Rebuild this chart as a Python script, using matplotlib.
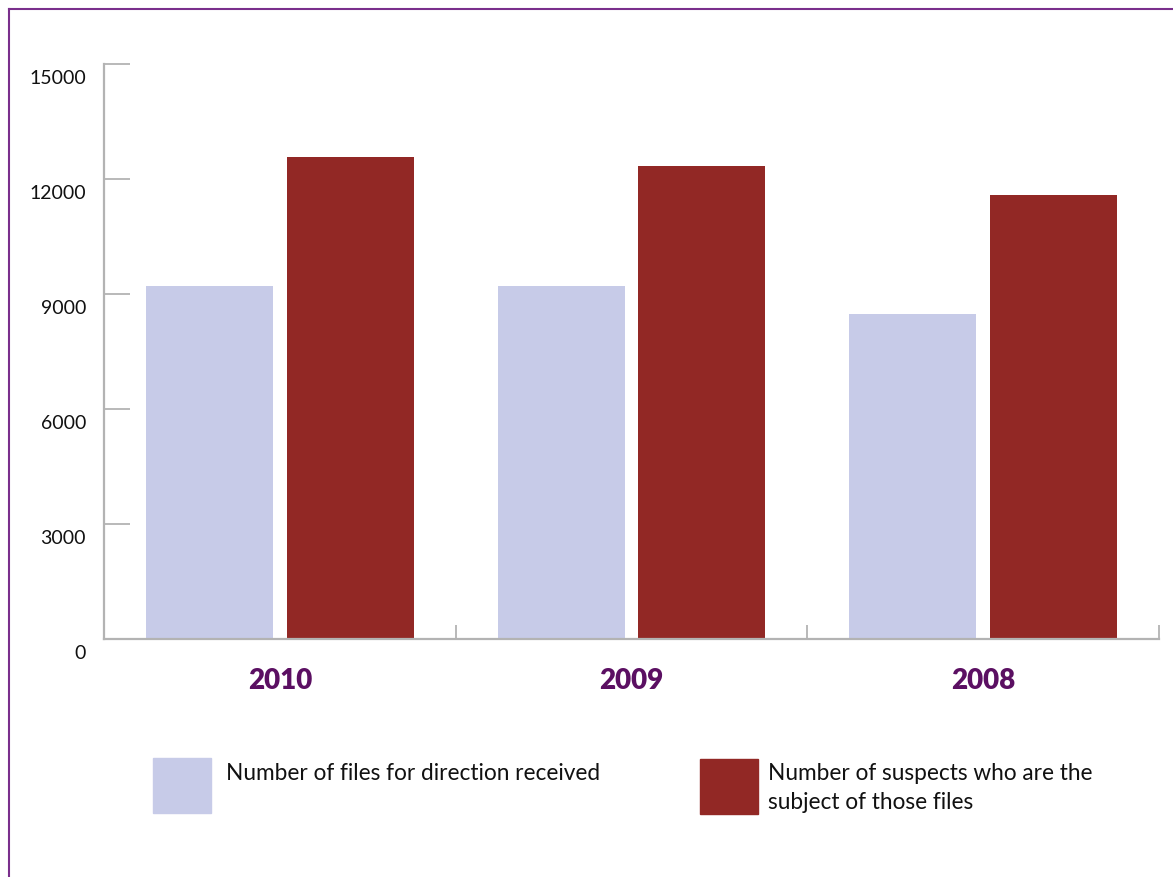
import matplotlib
matplotlib.use("Agg")
import matplotlib.pyplot as plt
import matplotlib.transforms as mtransforms
from matplotlib.patches import Rectangle
from matplotlib.lines import Line2D
import numpy as np

# data
years = ["2010", "2009", "2008"]
files_received = [9210, 9210, 8480]
suspects = [12570, 12340, 11580]
series_labels = ["Number of files for direction received",
                 "Number of suspects who are the\nsubject of those files"]
yticks = [0, 3000, 6000, 9000, 12000, 15000]

light = "#C7CBE8"
red = "#922825"
purple = "#5B0F62"
grey = "#B3B3B3"

plt.rcParams["font.family"] = ["Lato", "DejaVu Sans"]

W, H = 1173, 878
fig = plt.figure(figsize=(W / 100, H / 100), dpi=100)
ax = fig.add_axes([104 / W, 1 - 640 / H, 1055 / W, 575 / H])

x = np.arange(len(years))
ax.bar(x - 0.2, files_received, width=0.361, color=light, zorder=1)
ax.bar(x + 0.2, suspects, width=0.361, color=red, zorder=1)

ax.set_xlim(-0.5, 2.5)
ax.set_ylim(0, 15000)

for s in ["top", "right"]:
    ax.spines[s].set_visible(False)
for s in ["left", "bottom"]:
    ax.spines[s].set_color(grey)
    ax.spines[s].set_linewidth(1.6)
    ax.spines[s].set_zorder(3)

# y ticks point inward, labels sit a little below each tick
ax.set_yticks(yticks)
ax.set_yticklabels([str(v) for v in yticks])
ax.tick_params(axis="y", direction="in", length=19, width=1.3, color=grey,
               labelsize=14, pad=13, labelcolor="#111111")
shift = mtransforms.ScaledTranslation(0, -12 / 100, fig.dpi_scale_trans)
for lab in ax.get_yticklabels():
    lab.set_transform(lab.get_transform() + shift)

# group separators as major ticks, year names as minor tick labels
ax.set_xticks([0.5, 1.5, 2.5])
ax.set_xticklabels([])
ax.tick_params(axis="x", which="major", direction="in", length=10, width=1.3,
               color=grey)
ax.set_xticks(x, minor=True)
ax.set_xticklabels(years, minor=True)
ax.tick_params(axis="x", which="minor", length=0, pad=20, labelsize=20,
               labelcolor=purple)
for lab in ax.get_xticklabels(minor=True):
    lab.set_fontweight("heavy")

# legend drawn by hand to match the layout
fig.patches.append(Rectangle((153 / W, 1 - 814 / H), 58 / W, 55 / H,
                             transform=fig.transFigure, color=light))
fig.patches.append(Rectangle((700 / W, 1 - 815 / H), 58 / W, 55 / H,
                             transform=fig.transFigure, color=red))
fig.text(226 / W, 1 - 763 / H, series_labels[0], fontsize=16.3, va="top",
         color="#111111")
fig.text(768 / W, 1 - 763 / H, series_labels[1], fontsize=16.3, va="top",
         color="#111111", linespacing=1.45)

# purple frame lines at top and left
fig.add_artist(Line2D([9 / W, 1], [1 - 10 / H, 1 - 10 / H],
                      transform=fig.transFigure, color="#7A2F8C", lw=1.5))
fig.add_artist(Line2D([9 / W, 9 / W], [0, 1 - 10 / H],
                      transform=fig.transFigure, color="#7A2F8C", lw=1.5))

fig.savefig("out.png", dpi=100)
